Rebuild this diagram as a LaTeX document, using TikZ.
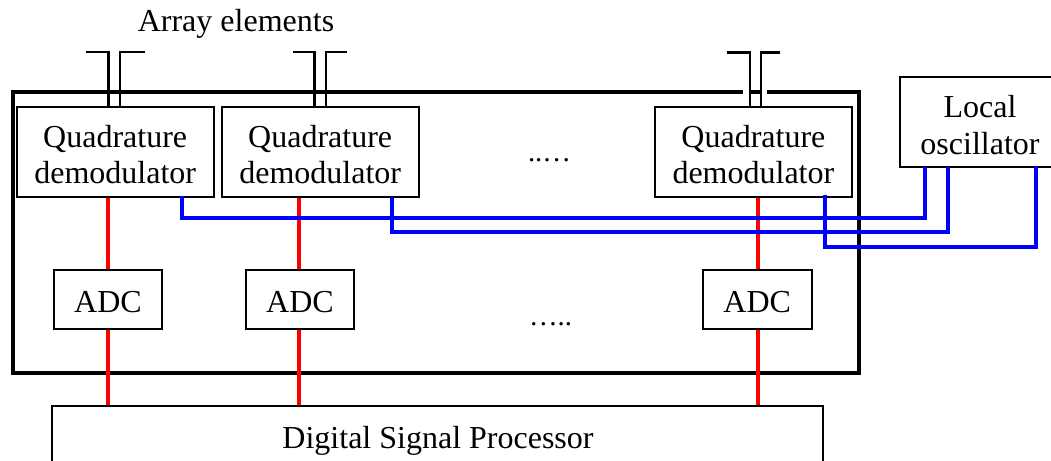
\documentclass[tikz,border=0pt]{standalone}
\usepackage{fontspec}
\setmainfont{Liberation Serif}
\newcommand{\lowerfirst}{\rule{0pt}{20.5pt}}
\tikzset{
  x=0.75pt,y=-0.75pt,
  blockbox/.style={draw=black,line width=1.5pt,fill=white,inner sep=0pt,align=center,
    font=\fontsize{24}{27.7}\selectfont},
  qdbox/.style={blockbox,minimum width=148pt,minimum height=67.5pt},
  adcbox/.style={blockbox,minimum width=81.5pt,minimum height=44pt},
  txt/.style={inner sep=0pt,font=\fontsize{24}{27.7}\selectfont},
  dotstxt/.style={inner sep=0pt,font=\fontsize{21.5}{25}\selectfont},
  antenna/.style={draw=black,line width=1.6pt},
  outerline/.style={draw=black,line width=3.2pt},
  redline/.style={draw=red,line width=2.8pt},
  blueline/.style={draw=blue,line width=2.8pt,line join=miter},
}
\begin{document}
\begin{tikzpicture}
\useasboundingbox (0,0) rectangle (1051,461);
\clip (0,0) rectangle (1051,461);
% outer frame
\node[outerline,draw,minimum width=634.3pt,minimum height=211pt,inner sep=0pt] (frame) at (435.85,232.35) {};
% gaps in the frame around the third antenna
\coordinate (g1a) at (743,91.7); \coordinate (g1b) at (749,91.7);
\coordinate (g2a) at (762,91.7); \coordinate (g2b) at (767,91.7);
\draw[white,line width=4.5pt] (g1a) -- (g1b) (g2a) -- (g2b);
% blocks
\node[qdbox] (q1) at (115.2,152) {\lowerfirst Quadrature\\demodulator};
\node[qdbox] (q2) at (320.2,152) {\lowerfirst Quadrature\\demodulator};
\node[qdbox] (q3) at (753.4,152) {\lowerfirst Quadrature\\demodulator};
\node[adcbox] (a1) at (108,299.3) {\lowerfirst ADC};
\node[adcbox] (a2) at (300,299.3) {\lowerfirst ADC};
\node[adcbox] (a3) at (757.2,299.3) {\lowerfirst ADC};
\node[blockbox,minimum width=578.2pt,minimum height=60pt] (dsp) at (437.5,446) {};
\node[txt,anchor=base] (dsptext) at (438,448) {Digital Signal Processor};
\node[blockbox,minimum width=160pt,minimum height=67.5pt] (lo) at (1006.7,122) {};
\node[txt,anchor=base] (lo1) at (980,117) {Local};
\node[txt,anchor=base] (lo2) at (980,154) {oscillator};
\node[txt,anchor=base] (arr) at (236,31) {Array elements};
\node[dotstxt,anchor=base] (d1) at (549.5,161.5) {..…};
\node[dotstxt,anchor=base] (d2) at (550.5,325.5) {…..};
% antennas
\coordinate (t1l) at (86,52); \coordinate (t1m) at (108.5,52);
\coordinate (t1n) at (120,52); \coordinate (t1r) at (145,52);
\coordinate (t2l) at (293,52); \coordinate (t2m) at (314.5,52);
\coordinate (t2n) at (325.7,52); \coordinate (t2r) at (347,52);
\coordinate (t3l) at (727,52.5); \coordinate (t3m) at (750,52.5);
\coordinate (t3n) at (760.7,52.5); \coordinate (t3r) at (780,52.5);
\draw[antenna] (q1.north -| t1m) -- (t1m) -- (t1l);
\draw[antenna] (q1.north -| t1n) -- (t1n) -- (t1r);
\draw[antenna] (q2.north -| t2m) -- (t2m) -- (t2l);
\draw[antenna] (q2.north -| t2n) -- (t2n) -- (t2r);
\draw[antenna] (q3.north -| t3m) -- (t3m) -- (t3l);
\draw[antenna] (q3.north -| t3n) -- (t3n) -- (t3r);
% signal paths
\coordinate (r1) at (108,0); \coordinate (r2) at (299.3,0); \coordinate (r3) at (758.3,0);
\draw[redline] (q1.south -| r1) -- (a1.north -| r1);
\draw[redline] (q2.south -| r2) -- (a2.north -| r2);
\draw[redline] (q3.south -| r3) -- (a3.north -| r3);
\draw[redline] (a1.south -| r1) -- (dsp.north -| r1);
\draw[redline] (a2.south -| r2) -- (dsp.north -| r2);
\draw[redline] (a3.south -| r3) -- (dsp.north -| r3);
% oscillator lines
\coordinate (b1s) at (182,195.5); \coordinate (b1e) at (925,167);
\coordinate (b2s) at (391.7,197); \coordinate (b2e) at (947.7,167);
\coordinate (b3s) at (825,195); \coordinate (b3e) at (1035.7,165.5);
\coordinate (y1) at (0,217.7); \coordinate (y2) at (0,231.7); \coordinate (y3) at (0,246.7);
\draw[blueline] (b1s) -- (b1s |- y1) -- (b1e |- y1) -- (b1e);
\draw[blueline] (b2s) -- (b2s |- y2) -- (b2e |- y2) -- (b2e);
\draw[blueline] (b3s) -- (b3s |- y3) -- (b3e |- y3) -- (b3e);
\end{tikzpicture}
\end{document}
